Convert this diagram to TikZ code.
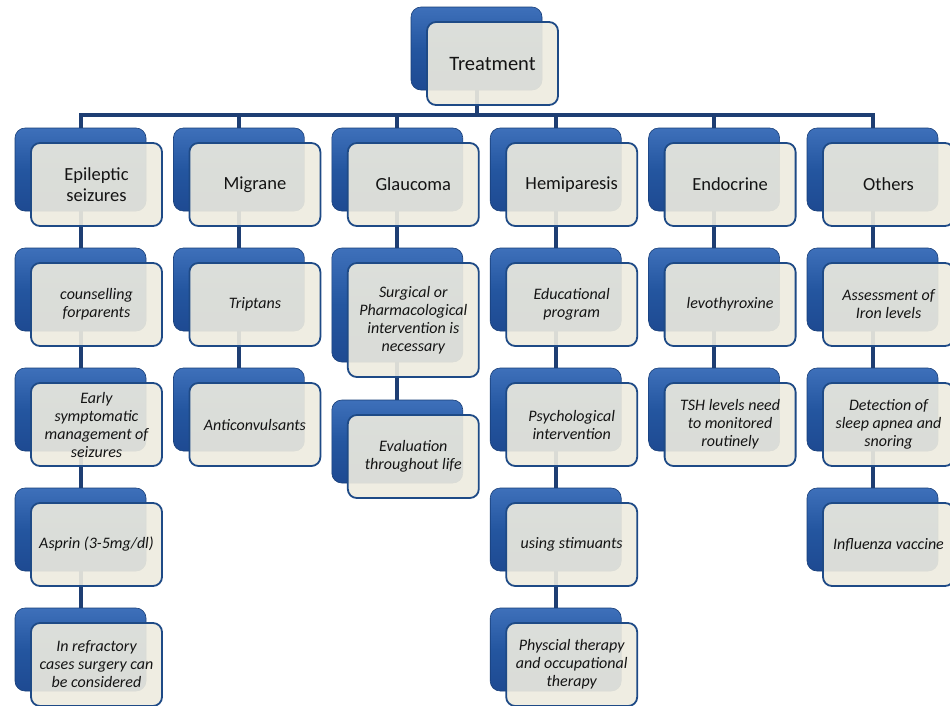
\documentclass[tikz,border=0pt]{standalone}
\usepackage{fontspec}
\setmainfont{Carlito}
\usetikzlibrary{calc}
\pgfdeclarelayer{bg}
\pgfsetlayers{bg,main}
\definecolor{bT}{RGB}{62,112,186}
\definecolor{bM}{RGB}{36,86,160}
\definecolor{bB}{RGB}{30,74,146}
\definecolor{bD}{RGB}{24,62,120}
\definecolor{cream}{RGB}{237,235,223}
\definecolor{fB}{RGB}{30,74,134}
\definecolor{cn}{RGB}{30,62,115}
\definecolor{txt}{RGB}{20,20,20}
\tikzset{
  back/.style={rectangle, rounded corners=10pt, minimum width=131pt, inner sep=0pt,
    top color=bT, bottom color=bB, middle color=bM, draw=bD, line width=0.6pt},
  front/.style={rectangle, rounded corners=9pt, minimum width=131pt, inner sep=2pt,
    fill=cream, fill opacity=0.91, text opacity=1, draw=fB, line width=1.8pt,
    align=center, text=txt},
  lvlzero/.style={font=\fontsize{20.5}{24}\selectfont},
  lvlone/.style={font=\fontsize{18.5}{21}\selectfont},
  leaf/.style={font=\fontsize{16}{18}\selectfont\itshape},
  conn/.style={draw=cn, line width=4pt},
}
% name, left x, top y, height, style, text
\newcommand\pairnode[6]{%
  \node[back, minimum height=#4pt] (#1-b) at (#2+65.5, #3+#4/2) {};
  \node[front, minimum height=#4pt, #5] (#1) at (#2+81.5, #3+15+#4/2) {#6};
}
\begin{document}
\begin{tikzpicture}[x=1pt, y=-1pt]
\useasboundingbox (0,0) rectangle (950,705);
% top
\pairnode{top}{411}{7}{83}{lvlzero}{Treatment}
% level 1
\pairnode{ep}{15}{128}{83}{lvlone}{Epileptic\\seizures}
\pairnode{mi}{173.4}{128}{83}{lvlone}{Migrane}
\pairnode{gl}{331.8}{128}{83}{lvlone}{Glaucoma}
\pairnode{he}{490.2}{128}{83}{lvlone}{Hemiparesis}
\pairnode{en}{648.6}{128}{83}{lvlone}{Endocrine}
\pairnode{ot}{807}{128}{83}{lvlone}{Others}
% Epileptic column
\pairnode{ep1}{15}{248}{83}{leaf}{counselling\\forparents}
\pairnode{ep2}{15}{368}{83}{leaf}{Early\\symptomatic\\management of\\seizures}
\pairnode{ep3}{15}{488}{83}{leaf}{Asprin (3-5mg/dl)}
\pairnode{ep4}{15}{608}{83}{leaf}{In refractory\\cases surgery can\\be considered}
% Migrane column
\pairnode{mi1}{173.4}{248}{83}{leaf}{Triptans}
\pairnode{mi2}{173.4}{368}{83}{leaf}{Anticonvulsants}
% Glaucoma column
\pairnode{gl1}{331.8}{248}{114}{leaf}{Surgical or\\Pharmacological\\intervention is\\necessary}
\pairnode{gl2}{331.8}{400}{83}{leaf}{Evaluation\\throughout life}
% Hemiparesis column
\pairnode{he1}{490.2}{248}{83}{leaf}{Educational\\program}
\pairnode{he2}{490.2}{368}{83}{leaf}{Psychological\\intervention}
\pairnode{he3}{490.2}{488}{83}{leaf}{using stimuants}
\pairnode{he4}{490.2}{608}{83}{leaf}{Physcial therapy\\and occupational\\therapy}
% Endocrine column
\pairnode{en1}{648.6}{248}{83}{leaf}{levothyroxine}
\pairnode{en2}{648.6}{368}{83}{leaf}{TSH levels need\\to monitored\\routinely}
% Others column
\pairnode{ot1}{807}{248}{83}{leaf}{Assessment of\\Iron levels}
\pairnode{ot2}{807}{368}{83}{leaf}{Detection of\\sleep apnea and\\snoring}
\pairnode{ot3}{807}{488}{83}{leaf}{Influenza vaccine}
% connectors
\begin{pgfonlayer}{bg}
  \coordinate (bar) at (0,115);
  \draw[conn] (top-b.center) -- (top-b.center |- bar);
  \draw[conn] (ep-b.center) -- (ep-b.center |- bar) -- (ot-b.center |- bar) -- (ot-b.center);
  \foreach \n in {mi,gl,he,en} { \draw[conn] (\n-b.center |- bar) -- (\n-b.center); }
  \draw[conn] (ep-b.center) -- (ep1-b.center) -- (ep2-b.center) -- (ep3-b.center) -- (ep4-b.center);
  \draw[conn] (mi-b.center) -- (mi1-b.center) -- (mi2-b.center);
  \draw[conn] (gl-b.center) -- (gl1-b.center) -- (gl2-b.center);
  \draw[conn] (he-b.center) -- (he1-b.center) -- (he2-b.center) -- (he3-b.center) -- (he4-b.center);
  \draw[conn] (en-b.center) -- (en1-b.center) -- (en2-b.center);
  \draw[conn] (ot-b.center) -- (ot1-b.center) -- (ot2-b.center) -- (ot3-b.center);
\end{pgfonlayer}
\end{tikzpicture}
\end{document}
